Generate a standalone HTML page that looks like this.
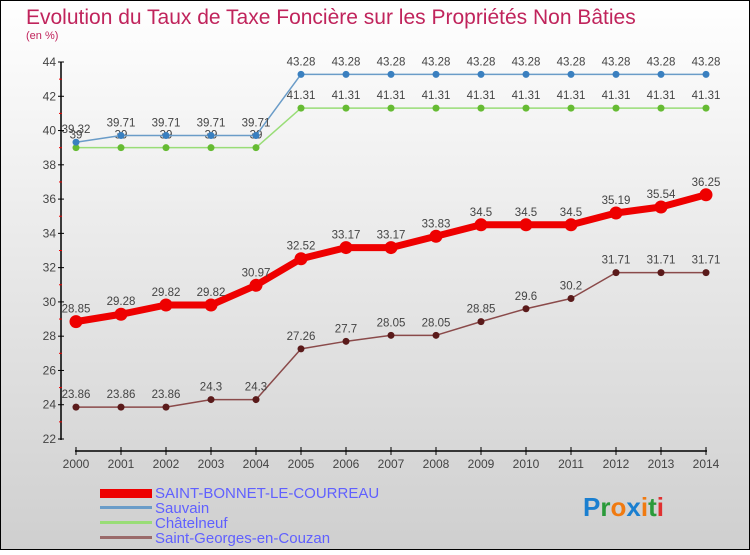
<!DOCTYPE html>
<html><head><meta charset="utf-8"><style>
body{margin:0}
#c{width:750px;height:550px;position:relative;font-family:"Liberation Sans",sans-serif}
</style></head><body>
<div id="c">
<svg id="s" width="750" height="550" xmlns="http://www.w3.org/2000/svg">
<defs><linearGradient id="bg" x1="0" y1="0" x2="0" y2="1"><stop offset="0" stop-color="#ffffff"/><stop offset="1" stop-color="#cfcfcf"/></linearGradient></defs>
<rect x="0.5" y="0.5" width="749" height="549" fill="url(#bg)" stroke="#000"/>
<text x="26" y="24" font-size="21" fill="#c0245c">Evolution du Taux de Taxe Foncière sur les Propriétés Non Bâties</text>
<text x="26" y="39" font-size="11" fill="#c0245c">(en %)</text>
<g id="axes"></g><g id="series"></g>
<g>
<rect x="100" y="489" width="52" height="9" fill="#e00"/>
<text x="155" y="498" font-size="15" fill="#6060ff">SAINT-BONNET-LE-COURREAU</text>
<rect x="100" y="506" width="52" height="3" fill="#6a9cc8"/>
<text x="155" y="513" font-size="15" fill="#6060ff">Sauvain</text>
<rect x="100" y="521" width="52" height="3" fill="#99dd77"/>
<text x="155" y="528" font-size="15" fill="#6060ff">Châtelneuf</text>
<rect x="100" y="536" width="52" height="3" fill="#9a6a6a"/>
<text x="155" y="543" font-size="15" fill="#6060ff">Saint-Georges-en-Couzan</text>
</g>
<text x="583" y="516" font-size="26" font-weight="bold"><tspan fill="#1a7fd0">P</tspan><tspan fill="#2a9a3a">r</tspan><tspan fill="#f07a10">o</tspan><tspan fill="#1a7fd0">x</tspan><tspan fill="#f07a10">i</tspan><tspan fill="#2a9a3a">t</tspan><tspan fill="#e03030">i</tspan></text>
</svg></div>
<script>
const years=[2000,2001,2002,2003,2004,2005,2006,2007,2008,2009,2010,2011,2012,2013,2014];
const yTicks=[22,24,26,28,30,32,34,36,38,40,42,44];
const sbValues=[28.85,29.28,29.82,29.82,30.97,32.52,33.17,33.17,33.83,34.5,34.5,34.5,35.19,35.54,36.25];
const sauvainValues=[39.32,39.71,39.71,39.71,39.71,43.28,43.28,43.28,43.28,43.28,43.28,43.28,43.28,43.28,43.28];
const chatValues=[39,39,39,39,39,41.31,41.31,41.31,41.31,41.31,41.31,41.31,41.31,41.31,41.31];
const sgValues=[23.86,23.86,23.86,24.3,24.3,27.26,27.7,28.05,28.05,28.85,29.6,30.2,31.71,31.71,31.71];
const NS="http://www.w3.org/2000/svg";
const xS=i=>76+i*45;
const yS=v=>439-(v-22)*(377/22);
function mk(t,a,p){const e=document.createElementNS(NS,t);for(const k in a)e.setAttribute(k,a[k]);p.appendChild(e);return e;}
const ax=document.getElementById('axes');
let e=mk('line',{x1:61,y1:62,x2:61,y2:440,stroke:'#000','stroke-width':1.5},ax);


e=mk('line',{x1:75,y1:451,x2:707,y2:451,stroke:'#000','stroke-width':1.5},ax);


yTicks.forEach(v=>{
 mk('line',{x1:58,x2:64,y1:yS(v),y2:yS(v),stroke:'#000'},ax);
 if(v<44) mk('line',{x1:59,x2:62,y1:yS(v+1),y2:yS(v+1),stroke:'#e00'},ax);
 const t=mk('text',{x:56,y:yS(v)+4,'font-size':12,fill:'#444','text-anchor':'end'},ax);t.textContent=v;
 
 
});
years.forEach((y,i)=>{
 mk('line',{x1:xS(i),x2:xS(i),y1:447,y2:455,stroke:'#000'},ax);
 const t=mk('text',{x:xS(i),y:468,'font-size':12,fill:'#444','text-anchor':'middle'},ax);t.textContent=y;
 
 
});
const sg=document.getElementById('series');
function series(vals,name,col,w,r,dot){
 const g=mk('g',{},sg);
 
 
 mk('polyline',{points:vals.map((v,i)=>xS(i)+','+yS(v)).join(' '),fill:'none',stroke:col,'stroke-width':w,'stroke-linejoin':'round'},g);
 vals.forEach((v,i)=>{
  const c=mk('circle',{cx:xS(i),cy:yS(v),r:r,fill:dot},g);
  
  
  const t=mk('text',{x:xS(i),y:yS(v)-9,'font-size':11.5,fill:'#444','text-anchor':'middle'},g);t.textContent=v;
  
  
 });
}
series(sgValues,'saint-georges','#8a4a4a',1.5,3.5,'#5a1a1a');
series(chatValues,'chatelneuf','#99dd77',1.5,3.5,'#66bb33');
series(sauvainValues,'sauvain','#6a9cc8',1.5,3.5,'#3a80c0');
series(sbValues,'saint-bonnet','#e00',7,6.5,'#e00');
</script>
</body></html>
